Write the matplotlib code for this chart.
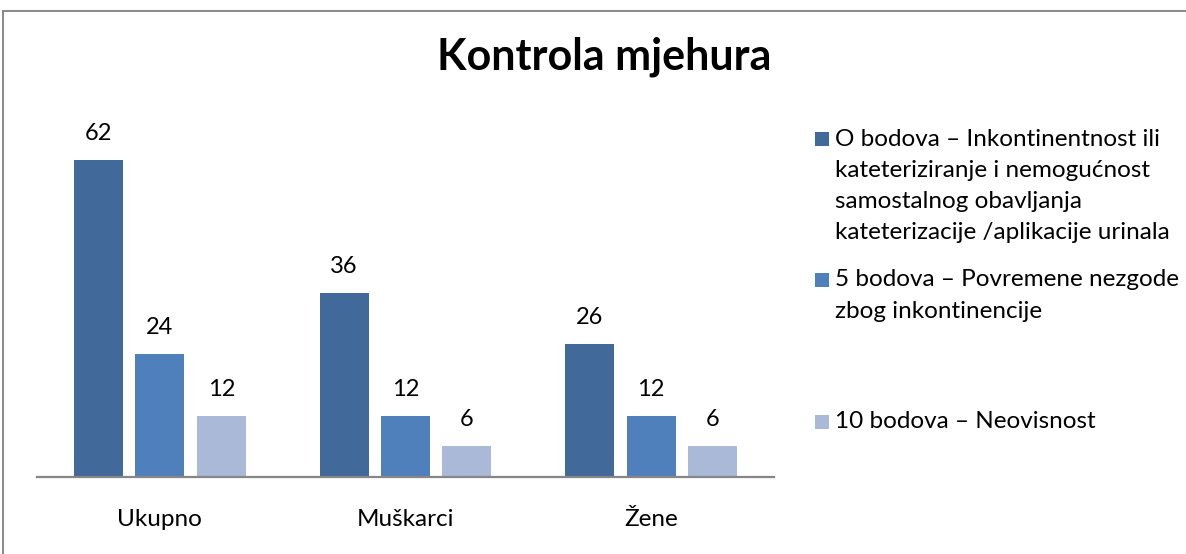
import numpy as np
import matplotlib
matplotlib.use("Agg")
import matplotlib.pyplot as plt
from matplotlib.patches import Rectangle

categories = ["Ukupno", "Muškarci", "Žene"]
series_names = [
    ["O bodova – Inkontinentnost ili", "kateteriziranje i nemogućnost",
     "samostalnog obavljanja", "kateterizacije /aplikacije urinala"],
    ["5 bodova – Povremene nezgode", "zbog inkontinencije"],
    ["10 bodova – Neovisnost"],
]
bod0 = [62, 36, 26]
bod5 = [24, 12, 12]
bod10 = [12, 6, 6]
colors = ["#41699a", "#4f80bb", "#aab9d8"]

plt.rcParams['font.family'] = ['Lato', 'DejaVu Sans']

W, H = 1186, 554
fig = plt.figure(figsize=(W / 100, H / 100), dpi=100)

# outer frame
fig.patches.append(Rectangle((3 / W, -0.05), 1.2, (H - 11) / H + 0.05, transform=fig.transFigure,
                             fill=False, edgecolor="#8c8c8c", lw=1.5))

ax = fig.add_axes([37 / W, (H - 477) / H, 737 / W, 337 / H])
x = np.arange(len(categories))
w = 0.2
bars = []
for i, vals in enumerate([bod0, bod5, bod10]):
    b = ax.bar(x + (i - 1) * 0.25, vals, w, color=colors[i], label=series_names[i][0])
    bars.append(b)
    for xx, v in zip(x + (i - 1) * 0.25, vals):
        ax.annotate(str(v), (xx, v), xytext=(0, 19), textcoords="offset points",
                    ha="center", va="center", fontsize=17, clip_on=False)

ax.set_xlim(-0.5, 2.5)
ax.set_ylim(0, 337 / 5.113)
for s in ["top", "left", "right"]:
    ax.spines[s].set_visible(False)
ax.spines["bottom"].set_color("#868686")
ax.spines["bottom"].set_linewidth(1.6)
ax.set_yticks([])
ax.set_xticks(x)
ax.set_xticklabels(categories, fontsize=17.5)
ax.tick_params(axis="x", length=0, pad=23)

fig.text(604 / W, 1 - 57 / H, "Kontrola mjehura", ha="center", va="center",
         fontsize=31, fontweight="bold")

# legend drawn by hand: square on the first line, wrapped text
first_line = [139, 280, 422]
line_h = 31.3
for b, lines, y0 in zip(bars, series_names, first_line):
    fc = b.patches[0].get_facecolor()
    fig.patches.append(Rectangle((815 / W, 1 - (y0 + 7) / H), 14 / W, 14 / H,
                                 transform=fig.transFigure, facecolor=fc, edgecolor="none"))
    for k, line in enumerate(lines):
        fig.text(835 / W, 1 - (y0 + k * line_h) / H, line, ha="left", va="center",
                 fontsize=17.5)

fig.savefig("out.png", dpi=100)
